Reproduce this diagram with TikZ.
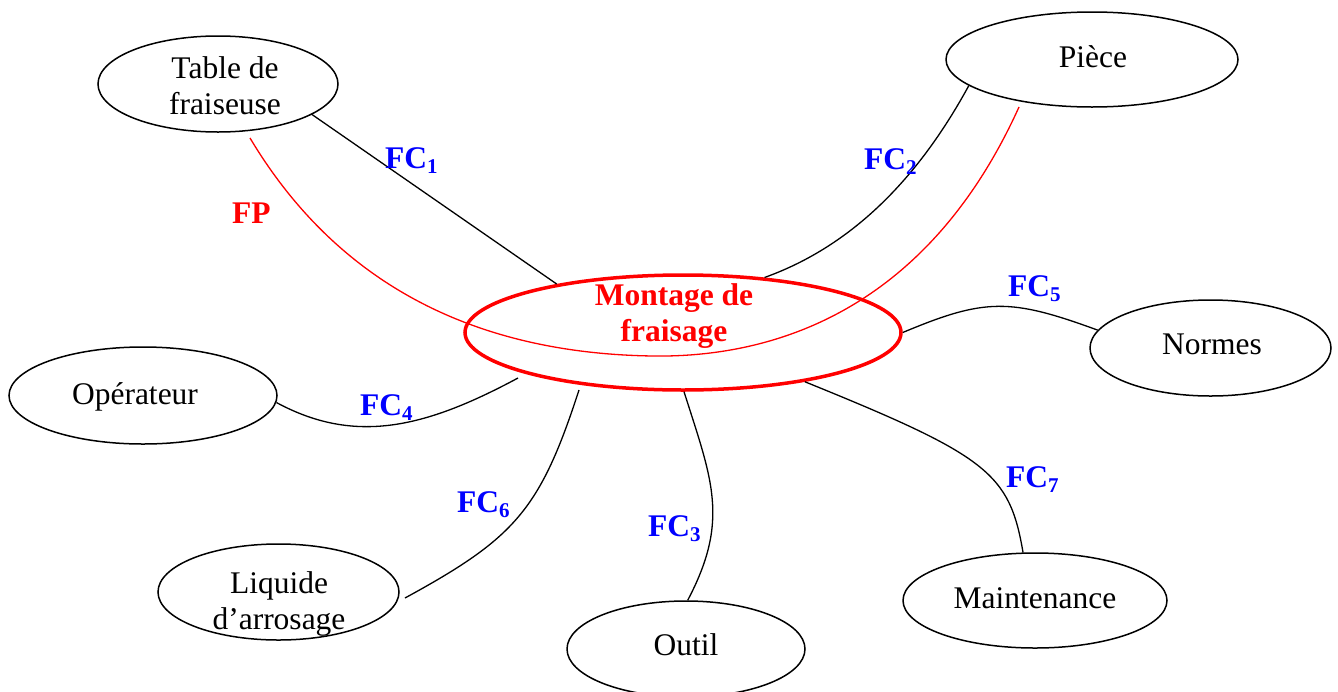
\documentclass[tikz,border=0pt]{standalone}
\usepackage{fontspec}
\setmainfont{Liberation Serif}
\usetikzlibrary{shapes.geometric}
\definecolor{fcblue}{RGB}{0,0,255}
\definecolor{fpred}{RGB}{255,0,0}
\newcommand{\fcsub}[1]{\raisebox{-5pt}{\fontsize{21}{21}\selectfont #1}}
\begin{document}
\begin{tikzpicture}[x=1pt,y=-1pt,
  bub/.style={draw=black, line width=1.5pt, ellipse, inner sep=0pt},
  txt/.style={font=\fontsize{31.5}{36}\selectfont, anchor=base, inner sep=0pt},
  fc/.style={font=\fontsize{31.5}{36}\selectfont\bfseries, text=fcblue, anchor=base west, inner sep=0pt},
  link/.style={draw=black, line width=1.3pt},
  fpline/.style={draw=fpred, line width=1.3pt},
]
\useasboundingbox (0,0) rectangle (1338,691);
% ellipses
\node[bub, minimum width=240pt, minimum height=96pt] (t) at (218,84) {};
\node[bub, minimum width=292pt, minimum height=95pt] (p) at (1092,59.5) {};
\node[bub, minimum width=241pt, minimum height=96pt] (n) at (1210.5,348) {};
\node[bub, minimum width=268pt, minimum height=97pt] (o) at (143,395.5) {};
\node[bub, minimum width=241pt, minimum height=96pt] (l) at (278.5,592) {};
\node[bub, minimum width=238pt, minimum height=96pt] (u) at (686,649) {};
\node[bub, minimum width=264pt, minimum height=95pt] (mt) at (1035,600.5) {};
% free ends
\coordinate (fpa) at (250,138);
\coordinate (fpm) at (653,356);
\coordinate (fpb) at (1019,107);
\coordinate (c4) at (518,378);
\coordinate (c6) at (579,390);
\coordinate (c6b) at (405,598);
% FP curve
\draw[fpline] (fpa) .. controls (320,255) and (440,353) .. (fpm)
  .. controls (779.5,357.8) and (929,306) .. (fpb);
% centre ellipse
\node[ellipse, draw=fpred, line width=3.5pt, inner sep=0pt, minimum width=436pt, minimum height=115pt] (m) at (683,332.5) {};
% connectors
\draw[link] (t.-18.8) -- (m.159.5);
\draw[link] (m.34.1) .. controls (855,245) and (920,175) .. (p.-168.2);
\draw[link] (m.0.65) .. controls (985,298) and (1010,298) .. (n.171.1);
\draw[link] (o.-3.2) .. controls (355,445) and (425,428) .. (c4);
\draw[link] (c6) .. controls (540,510) and (515,538) .. (c6b);
\draw[link] (m.-89) .. controls (712,480) and (730,520) .. (u.88.8);
\draw[link] (m.-22.6) .. controls (988,456) and (1009.5,473) .. (mt.104.2);
% texts
\node[txt] (tt) at (225,78) {\begin{tabular}[t]{@{}c@{}}Table de\\fraiseuse\end{tabular}};
\node[txt] (pt) at (1093,67) {Pièce};
\node[txt] (nt) at (1212,354) {Normes};
\node[txt] (ot) at (135,404) {Opérateur};
\node[txt] (lt) at (279,593) {\begin{tabular}[t]{@{}c@{}}Liquide\\d’arrosage\end{tabular}};
\node[txt] (ut) at (686,655) {Outil};
\node[txt] (mtt) at (1035,608) {Maintenance};
\node[txt, font=\fontsize{31.5}{36}\selectfont\bfseries, text=fpred] (mtxt) at (674,305) {\begin{tabular}[t]{@{}c@{}}Montage de\\fraisage\end{tabular}};
% labels
\node[fc] (fc1) at (385,168) {FC\fcsub{1}};
\node[fc, text=fpred] (fp) at (232,223) {FP};
\node[fc] (fc2) at (864,169) {FC\fcsub{2}};
\node[fc] (fc5) at (1008,296) {FC\fcsub{5}};
\node[fc] (fc4) at (360,415) {FC\fcsub{4}};
\node[fc] (fc6) at (457,512) {FC\fcsub{6}};
\node[fc] (fc3) at (648,536) {FC\fcsub{3}};
\node[fc] (fc7) at (1006,487) {FC\fcsub{7}};
\end{tikzpicture}
\end{document}
